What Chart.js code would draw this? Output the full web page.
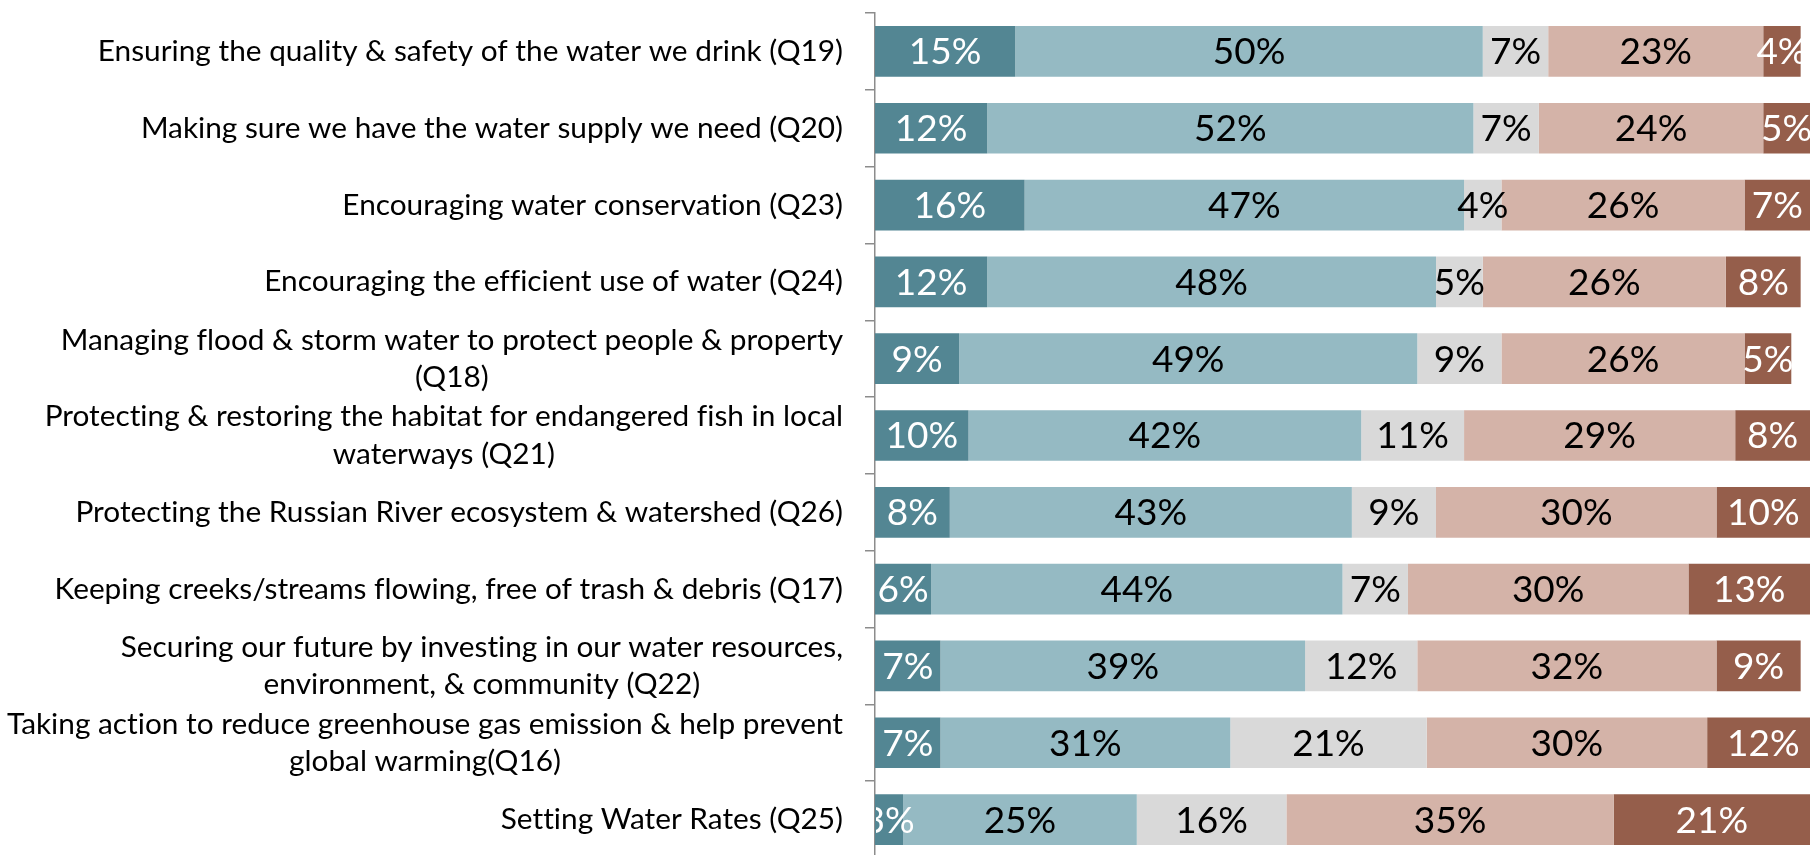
<!DOCTYPE html>
<html>
<head>
<meta charset="utf-8">
<script src="https://cdn.jsdelivr.net/npm/chart.js@4/dist/chart.umd.min.js"></script>
<style>
  html, body { margin: 0; padding: 0; background: #ffffff; overflow: hidden; }
  #wrap { width: 1810px; height: 860px; }
</style>
</head>
<body>
<div id="wrap"><canvas id="chart" width="1810" height="860"></canvas></div>
<script>
// Survey items (each entry is a list of label lines)
const categories = [
  ['Ensuring the quality & safety of the water we drink (Q19)'],
  ['Making sure we have the water supply we need (Q20)'],
  ['Encouraging water conservation (Q23)'],
  ['Encouraging the efficient use of water (Q24)'],
  ['Managing flood & storm water to protect people & property', '(Q18)'],
  ['Protecting & restoring the habitat for endangered fish in local', 'waterways (Q21)'],
  ['Protecting the Russian River ecosystem & watershed (Q26)'],
  ['Keeping creeks/streams flowing, free of trash & debris (Q17)'],
  ['Securing our future by investing in our water resources,', 'environment, & community (Q22)'],
  ['Taking action to reduce greenhouse gas emission & help prevent', 'global warming(Q16)'],
  ['Setting Water Rates (Q25)']
];

// Rating shares, percent of respondents
const excellent = [15, 12, 16, 12, 9, 10, 8, 6, 7, 7, 3];
const good      = [50, 52, 47, 48, 49, 42, 43, 44, 39, 31, 25];
const unsure    = [7, 7, 4, 5, 9, 11, 9, 7, 12, 21, 16];
const fair      = [23, 24, 26, 26, 26, 29, 30, 30, 32, 30, 35];
const poor      = [4, 5, 7, 8, 5, 8, 10, 13, 9, 12, 21];

const seriesNames = ['Excellent', 'Good', "Don't know", 'Fair', 'Poor'];
const seriesData = [excellent, good, unsure, fair, poor];
const seriesColors = ['#538693', '#95BAC3', '#D9D9D9', '#D4B3A8', '#955E4B'];
const labelColors = ['#ffffff', '#000000', '#000000', '#000000', '#ffffff'];

const LABEL_FONT = '29.8px Lato, "Open Sans", sans-serif';
const VALUE_FONT = '37px Lato, "Open Sans", sans-serif';
const AXIS_LEFT = 875;
const LABEL_RIGHT = 843;
const LINE_HEIGHT = 37.5;

// Category labels: each block right-aligned, its lines centred on one another
const categoryLabels = {
  id: 'categoryLabels',
  afterDraw(chart) {
    const ctx = chart.ctx;
    const yScale = chart.scales.y;
    ctx.save();
    ctx.font = LABEL_FONT;
    if ('textRendering' in ctx) ctx.textRendering = 'optimizeSpeed';
    ctx.fillStyle = '#000000';
    ctx.textAlign = 'center';
    ctx.textBaseline = 'middle';
    categories.forEach((lines, i) => {
      const maxW = Math.max(...lines.map(l => ctx.measureText(l).width));
      const cx = LABEL_RIGHT - maxW / 2;
      const y0 = yScale.getPixelForValue(i) - (lines.length - 1) * LINE_HEIGHT / 2;
      lines.forEach((line, k) => ctx.fillText(line, cx, y0 + k * LINE_HEIGHT));
    });
    ctx.restore();
  }
};

// Percent labels centred in each segment, clipped to the plot area
const segmentLabels = {
  id: 'segmentLabels',
  afterDatasetsDraw(chart) {
    const ctx = chart.ctx;
    const area = chart.chartArea;
    ctx.save();
    ctx.beginPath();
    ctx.rect(area.left + 1, area.top, area.right - area.left, area.bottom - area.top);
    ctx.clip();
    ctx.font = VALUE_FONT;
    ctx.textAlign = 'center';
    ctx.textBaseline = 'middle';
    chart.data.datasets.forEach((ds, di) => {
      const meta = chart.getDatasetMeta(di);
      ctx.fillStyle = labelColors[di];
      meta.data.forEach((bar, i) => {
        const v = ds.data[i];
        const x = (bar.x + bar.base) / 2;
        ctx.fillText(v + '%', x, bar.y + 1);
      });
    });
    ctx.restore();
  }
};

new Chart(document.getElementById('chart'), {
  type: 'bar',
  data: {
    labels: categories,
    datasets: seriesData.map((d, i) => ({
      label: seriesNames[i],
      data: d,
      backgroundColor: seriesColors[i],
      borderWidth: 0,
      barPercentage: 0.66,
      categoryPercentage: 1.0
    }))
  },
  options: {
    indexAxis: 'y',
    responsive: false,
    animation: false,
    devicePixelRatio: 1,
    layout: { padding: { top: 13, bottom: 2, left: 0, right: 0 } },
    plugins: {
      legend: { display: false },
      tooltip: { enabled: false }
    },
    scales: {
      x: {
        stacked: true,
        display: false,
        min: 0,
        max: 100
      },
      y: {
        stacked: true,
        offset: true,
        grid: {
          drawOnChartArea: false,
          drawTicks: true,
          tickLength: 10,
          color: '#8c8c8c',
          lineWidth: 1.5,
          offset: true
        },
        border: { display: true, color: '#8c8c8c', width: 1.5 },
        ticks: { display: false },
        afterFit(scale) { scale.width = AXIS_LEFT; }
      }
    }
  },
  plugins: [categoryLabels, segmentLabels]
});
</script>
</body>
</html>
